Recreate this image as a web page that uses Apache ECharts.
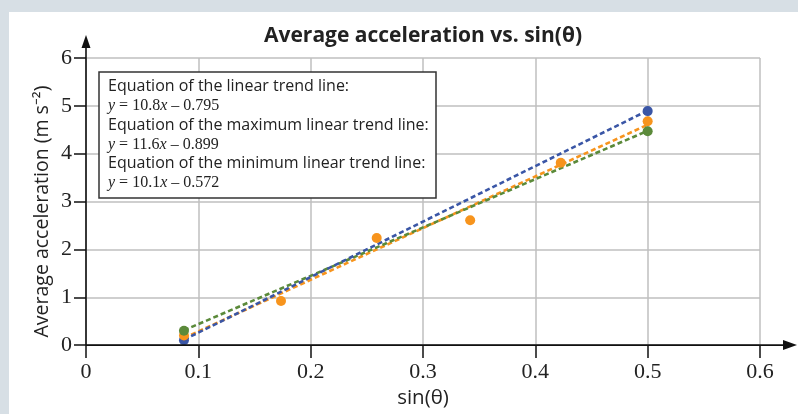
<!DOCTYPE html>
<html><head><meta charset="utf-8">
<script src="https://cdn.jsdelivr.net/npm/echarts@6/dist/echarts.min.js"></script>
<style>
html,body{margin:0;padding:0;background:#d7dfe5;}
#wrap{position:relative;width:798px;height:414px;background:#d7dfe5;overflow:hidden}
#panel{position:absolute;left:9px;top:12px;right:0;bottom:0;background:#fff}
#chart{position:absolute;left:0;top:0;width:798px;height:414px}
</style></head><body>
<div id="wrap"><div id="panel"></div><div id="chart"></div></div>
<script>
// ---- data ----
const titleText = 'Average acceleration vs. sin(θ)';
const xName = 'sin(θ)';
const yName = 'Average acceleration (m s⁻²)';
const xMin = 0, xMax = 0.6, xStep = 0.1;
const yMin = 0, yMax = 6, yStep = 1;

// measured points (orange)
const sinTheta = [0.0872, 0.1736, 0.2588, 0.3420, 0.4226, 0.5];
const avgAcc   = [0.20, 0.92, 2.24, 2.61, 3.81, 4.68];
// end points used for max / min lines
const maxPtX = [0.0872, 0.5];
const maxPtY = [0.10, 4.89];
const minPtX = [0.0872, 0.5];
const minPtY = [0.30, 4.47];
// trend line end points
const lineX      = [0.0872, 0.5];
const trendY     = [0.147, 4.605];
const maxTrendY  = [0.112, 4.901];
const minTrendY  = [0.309, 4.478];

const eqLabels = [
  'Equation of the linear trend line:',
  'Equation of the maximum linear trend line:',
  'Equation of the minimum linear trend line:'
];
const eqSlopes = ['10.8', '11.6', '10.1'];
const eqIntercepts = ['0.795', '0.899', '0.572'];

const BLUE = '#3a56a6', ORANGE = '#f7941d', GREEN = '#5b8a3a';

function pairs(xs, ys){ return xs.map((x,i)=>[x, ys[i]]); }

const chart = echarts.init(document.getElementById('chart'), null, {renderer:'canvas'});
const serif = '"Liberation Serif", "Times New Roman", serif';
const sans = '"Open Sans", "Noto Sans", sans-serif';

function dashLine(name, data, color, z){
  return {name, type:'line', data, showSymbol:false, symbol:'none', z,
    lineStyle:{color, width:2.6, type:[5,3]}, animation:false, silent:true};
}
function dots(name, data, color, z){
  return {name, type:'scatter', data, symbolSize:10, z,
    itemStyle:{color, opacity:1}, animation:false, silent:true};
}

chart.setOption({
  animation:false,
  grid:{left:86, right:38, top:58, bottom:66, containLabel:false},
  xAxis:{type:'value', min:xMin, max:xMax, interval:xStep,
    name:xName, nameLocation:'middle', nameGap:41,
    nameTextStyle:{fontFamily:sans, fontSize:20.5, color:'#222'},
    axisLine:{show:false},
    axisTick:{show:true, length:13, lineStyle:{color:'#111', width:1.5}},
    axisLabel:{fontFamily:serif, fontSize:22, color:'#222', margin:16,
      formatter:v=>String(+v.toFixed(1))},
    splitLine:{show:true, lineStyle:{color:'#bfbfbf', width:1.5}}},
  yAxis:{type:'value', min:yMin, max:yMax, interval:yStep,
    axisLine:{show:false},
    axisTick:{show:true, length:12, lineStyle:{color:'#111', width:1.5}},
    axisLabel:{fontFamily:serif, fontSize:22, color:'#222', margin:14},
    splitLine:{show:true, lineStyle:{color:'#bfbfbf', width:1.5}}},
  series:[
    dashLine('trend', pairs(lineX, trendY), ORANGE, 3),
    dashLine('min', pairs(lineX, minTrendY), GREEN, 4),
    dashLine('max', pairs(lineX, maxTrendY), BLUE, 5),
    dots('maxPts', pairs(maxPtX, maxPtY), BLUE, 6),
    dots('data', pairs(sinTheta, avgAcc), ORANGE, 7),
    dots('minPts', pairs(minPtX, minPtY), GREEN, 8)
  ]
});

// axes with arrows and title / equation box
const o = chart.convertToPixel({gridIndex:0}, [xMin, yMin]);
const xe = chart.convertToPixel({gridIndex:0}, [xMax, yMin]);
const ye = chart.convertToPixel({gridIndex:0}, [xMin, yMax]);
const xTip = xe[0] + 37, yTip = ye[1] - 23;

let richText = '';
eqLabels.forEach((l,i)=>{
  richText += '{s|' + l + '}\n{i|y}{m| = ' + eqSlopes[i] + '}{i|x}{m| – ' + eqIntercepts[i] + '}' + (i<2?'\n':'');
});

chart.setOption({
  graphic:[
    {type:'line', z:50, shape:{x1:o[0], y1:o[1], x2:xTip-10, y2:o[1]}, style:{stroke:'#111', lineWidth:1.6}},
    {type:'polygon', z:50, shape:{points:[[xTip,o[1]],[xTip-14,o[1]-5],[xTip-14,o[1]+5]]}, style:{fill:'#111'}},
    {type:'line', z:50, shape:{x1:o[0], y1:o[1], x2:o[0], y2:yTip+10}, style:{stroke:'#111', lineWidth:1.6}},
    {type:'polygon', z:50, shape:{points:[[o[0],yTip],[o[0]-4.5,yTip+13],[o[0]+4.5,yTip+13]]}, style:{fill:'#111'}},
    {type:'text', z:50, x:(o[0]+xe[0])/2, y:36, style:{text:titleText, font:'bold 21px "Open Sans", sans-serif',
      fill:'#222', textAlign:'center', textVerticalAlign:'middle'}},
    {type:'text', z:50, x:42, y:(o[1]+ye[1])/2 + 10, rotation:Math.PI/2,
      style:{text:yName, font:'19.5px "Open Sans", sans-serif', fill:'#222', textAlign:'center', textVerticalAlign:'middle'}},
    {type:'group', z:60, children:[
      {type:'rect', z:60, shape:{x:99, y:72, width:337, height:126}, style:{fill:'#fff', stroke:'#333', lineWidth:1.5}},
      {type:'text', z:61, x:108, y:77, style:{text:richText, fill:'#222',
        rich:{
          s:{fontFamily:sans, fontSize:16, lineHeight:19.3, fill:'#222'},
          i:{fontFamily:serif, fontStyle:'italic', fontSize:16, lineHeight:19.3, fill:'#222'},
          m:{fontFamily:serif, fontSize:16, lineHeight:19.3, fill:'#222'}
        }}}
    ]}
  ]
});
</script>
</body></html>
